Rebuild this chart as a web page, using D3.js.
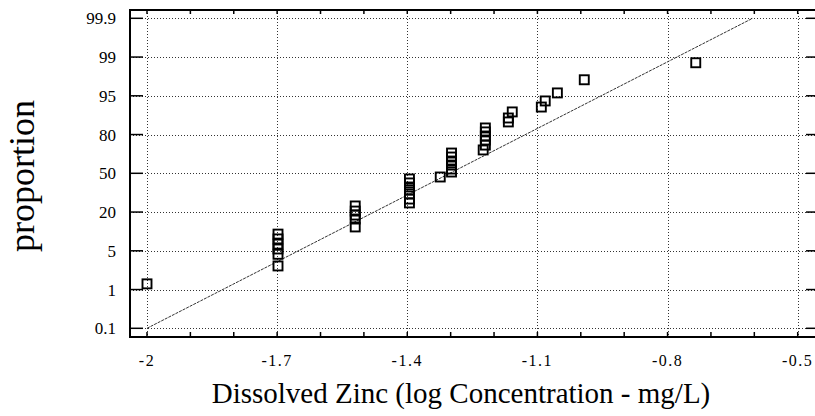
<!DOCTYPE html>
<html><head><meta charset="utf-8">
<script src="https://cdn.jsdelivr.net/npm/d3@7"></script>
<style>body{margin:0;background:#fff}svg{display:block}</style>
</head><body><svg id="c" width="815" height="416"></svg>
<script>
// ---- data ----
const xTicks = [-2, -1.7, -1.4, -1.1, -0.8, -0.5];
const xTickLabels = ["-2", "-1.7", "-1.4", "-1.1", "-0.8", "-0.5"];
const xMinorTicks = [-2, -1.9, -1.8, -1.7, -1.6, -1.5, -1.4, -1.3, -1.2, -1.1, -1.0, -0.9, -0.8, -0.7, -0.6, -0.5];
const yTicks = [0.1, 1, 5, 20, 50, 80, 95, 99, 99.9];
const yTickLabels = ["0.1", "1", "5", "20", "50", "80", "95", "99", "99.9"];
const concentration = [-2.0,
  -1.698, -1.698, -1.698, -1.698, -1.698, -1.698,
  -1.520, -1.520, -1.520, -1.520, -1.520,
  -1.395, -1.395, -1.395, -1.395, -1.395, -1.395, -1.395,
  -1.324,
  -1.298, -1.298, -1.298, -1.298, -1.298, -1.298,
  -1.225, -1.220, -1.220, -1.220, -1.220, -1.220,
  -1.167, -1.167, -1.158,
  -1.091, -1.082, -1.054, -0.992, -0.735];
const proportion = [1.3,
  2.8, 4.4, 5.4, 6.6, 8.1, 9.7,
  12.5, 16.2, 18.3, 20.6, 23.9,
  26.0, 28.8, 32.7, 35.9, 38.3, 41.7, 45.1,
  46.8,
  51.1, 53.7, 57.1, 60.5, 63.8, 67.0,
  69.4, 73.0, 76.5, 79.1, 81.5, 83.6,
  86.5, 88.2, 90.5,
  92.1, 93.8, 95.5, 97.3, 98.7];
const fitX = [-2.0, -0.604];
const fitP = [0.1, 99.9];
const xTitle = "Dissolved Zinc (log Concentration - mg/L)";
const yTitle = "proportion";

// ---- inverse normal CDF (Acklam) ----
function probit(p){
  const a=[-3.969683028665376e+01,2.209460984245205e+02,-2.759285104469687e+02,1.383577518672690e+02,-3.066479806614716e+01,2.506628277459239e+00];
  const b=[-5.447609879822406e+01,1.615858368580409e+02,-1.556989798598866e+02,6.680131188771972e+01,-1.328068155288572e+01];
  const c=[-7.784894002430293e-03,-3.223964580411365e-01,-2.400758277161838e+00,-2.549732539343734e+00,4.374664141464968e+00,2.938163982698783e+00];
  const d=[7.784695709041462e-03,3.224671290700398e-01,2.445134137142996e+00,3.754408661907416e+00];
  const pl=0.02425, ph=1-pl; let q,r;
  if(p<pl){q=Math.sqrt(-2*Math.log(p));return (((((c[0]*q+c[1])*q+c[2])*q+c[3])*q+c[4])*q+c[5])/((((d[0]*q+d[1])*q+d[2])*q+d[3])*q+1);}
  if(p<=ph){q=p-0.5;r=q*q;return (((((a[0]*r+a[1])*r+a[2])*r+a[3])*r+a[4])*r+a[5])*q/(((((b[0]*r+b[1])*r+b[2])*r+b[3])*r+b[4])*r+1);}
  q=Math.sqrt(-2*Math.log(1-p));return -(((((c[0]*q+c[1])*q+c[2])*q+c[3])*q+c[4])*q+c[5])/((((d[0]*q+d[1])*q+d[2])*q+d[3])*q+1);
}

// ---- layout ----
const frame = {left:130, top:10, right:816, bottom:337};
const yBot = 328.3, yTop = 18.3;
const svg = d3.select("#c");
const x = d3.scaleLinear().domain([-2, -0.5]).range([147, 797.7]);
const yz = d3.scaleLinear()
  .domain(yTicks.map(p => probit(p/100)))
  .range(yTicks.map((_, i) => yBot + (yTop - yBot) * i / (yTicks.length - 1)));
const y = p => yz(probit(p/100));

const font = "'Liberation Serif', 'Times New Roman', serif";

// gridlines
const grid = svg.append("g").attr("stroke", "#333").attr("stroke-width", 1).attr("stroke-dasharray", "1,2");
grid.selectAll("line.h").data(yTicks).join("line")
  .attr("x1", frame.left).attr("x2", frame.right)
  .attr("y1", d => Math.round(y(d)) + 0.5).attr("y2", d => Math.round(y(d)) + 0.5);
grid.selectAll("line.v").data(xTicks).join("line")
  .attr("y1", frame.top).attr("y2", frame.bottom)
  .attr("x1", d => Math.round(x(d)) + 0.5).attr("x2", d => Math.round(x(d)) + 0.5);

// fitted line
svg.append("line")
  .attr("x1", x(fitX[0])).attr("y1", y(fitP[0]))
  .attr("x2", x(fitX[1])).attr("y2", y(fitP[1]))
  .attr("stroke", "#333").attr("stroke-width", 1).attr("stroke-dasharray", "3,1");

// frame
const fr = svg.append("g").attr("stroke", "#000").attr("stroke-width", 2).attr("fill", "none");
fr.append("path").attr("d", `M${frame.left},${frame.top}H${frame.right}V${frame.bottom}H${frame.left}Z`);

// ticks
const tk = svg.append("g").attr("stroke", "#000").attr("stroke-width", 1.5);
tk.selectAll("line.l").data(yTicks).join("line")
  .attr("x1", frame.left).attr("x2", frame.left + 13)
  .attr("y1", d => y(d)).attr("y2", d => y(d));
tk.selectAll("line.r").data(yTicks).join("line")
  .attr("x1", frame.right - 10).attr("x2", frame.right)
  .attr("y1", d => y(d)).attr("y2", d => y(d));
tk.selectAll("line.b").data(xMinorTicks).join("line")
  .attr("x1", d => x(d)).attr("x2", d => x(d))
  .attr("y1", frame.bottom).attr("y2", frame.bottom - 5);
tk.selectAll("line.t").data(xMinorTicks).join("line")
  .attr("x1", d => x(d)).attr("x2", d => x(d))
  .attr("y1", frame.top).attr("y2", frame.top + 4);

// tick labels
svg.append("g").selectAll("text").data(yTicks).join("text")
  .attr("x", 116).attr("y", d => y(d)).attr("dy", "0.35em")
  .attr("text-anchor", "end").attr("font-family", font).attr("font-size", 17)
  .text((d, i) => yTickLabels[i]);
svg.append("g").selectAll("text").data(xTicks).join("text")
  .attr("x", d => x(d)).attr("y", 366)
  .attr("text-anchor", "middle").attr("font-family", font).attr("font-size", 16)
  .attr("letter-spacing", 1.5)
  .text((d, i) => xTickLabels[i]);

// titles
svg.append("text").attr("x", 461).attr("y", 403).attr("text-anchor", "middle")
  .attr("font-family", font).attr("font-size", 29).text(xTitle);
svg.append("text").attr("transform", "translate(34,176) rotate(-90)").attr("text-anchor", "middle")
  .attr("font-family", font).attr("font-size", 36).text(yTitle);

// points
svg.append("g").selectAll("rect").data(concentration).join("rect")
  .attr("x", d => x(d) - 4.5).attr("y", (d, i) => y(proportion[i]) - 4.5)
  .attr("width", 9).attr("height", 9)
  .attr("fill", "none").attr("stroke", "#000").attr("stroke-width", 1.9);
</script></body></html>
